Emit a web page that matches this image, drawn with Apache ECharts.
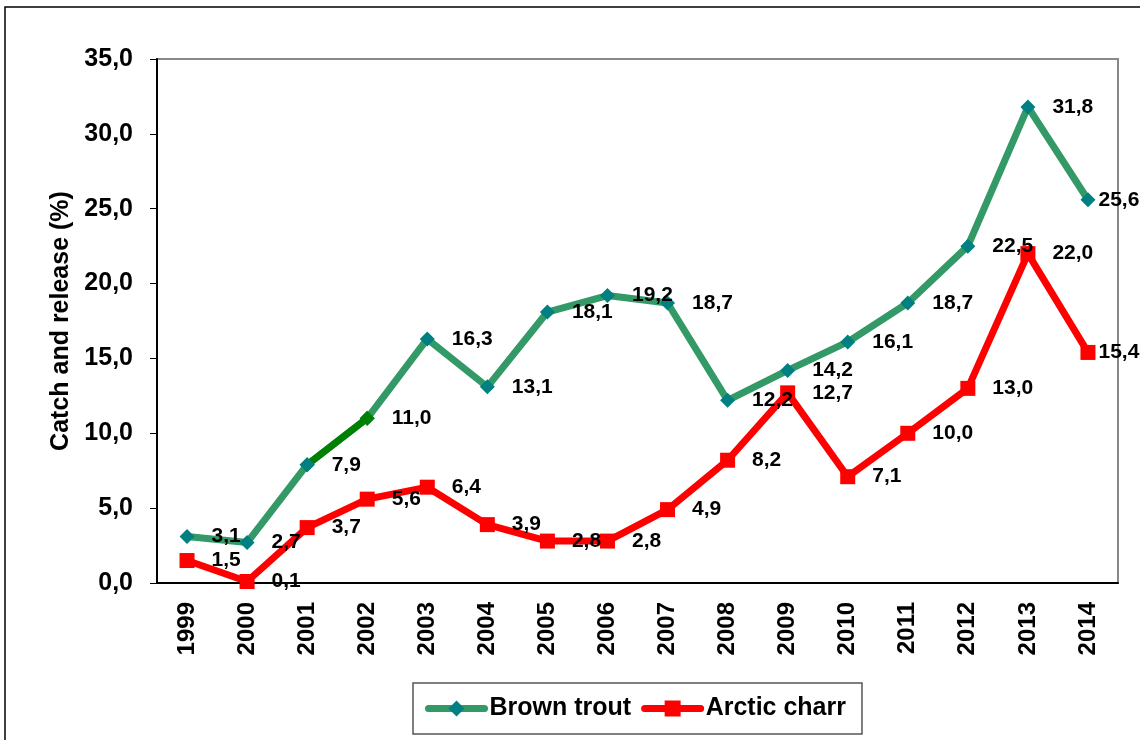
<!DOCTYPE html>
<html>
<head>
<meta charset="utf-8">
<script src="https://cdn.jsdelivr.net/npm/echarts@6/dist/echarts.min.js"></script>
<style>
  html, body { margin: 0; padding: 0; background: #fff; }
  #chart { width: 1140px; height: 740px; }
</style>
</head>
<body>
<div id="chart"></div>
<script>
// values
var years = ['1999', '2000', '2001', '2002', '2003', '2004', '2005', '2006', '2007', '2008', '2009', '2010', '2011', '2012', '2013', '2014']
var brownTrout = [3.1, 2.7, 7.9, 11.0, 16.3, 13.1, 18.1, 19.2, 18.7, 12.2, 14.2, 16.1, 18.7, 22.5, 31.8, 25.6]
var arcticCharr = [1.5, 0.1, 3.7, 5.6, 6.4, 3.9, 2.8, 2.8, 4.9, 8.2, 12.7, 7.1, 10.0, 13.0, 22.0, 15.4]
// 2001-2002 segment of brown trout drawn in darker green
var highlightYears = ['2001', '2002']

var font = 'Arial, "Liberation Sans", sans-serif'

function comma (v) {
  return Number(v).toFixed(1).replace('.', ',')
}

function withLabels (values) {
  // last point label sits closer to the marker (it runs over the plot border)
  return values.map(function (v, i) {
    if (i === values.length - 1) return { value: v, label: { distance: 3 } }
    return v
  })
}

var highlightData = years.map(function (y, i) {
  if (highlightYears.indexOf(y) < 0) return '-'
  if (y === highlightYears[0]) return { value: brownTrout[i], itemStyle: { color: '#008080' } }
  return { value: brownTrout[i], itemStyle: { color: '#008000' } }
})

var labelStyle = {
  show: true, position: 'right', distance: 17,
  formatter: function (p) { return comma(p.value) },
  fontFamily: font, fontWeight: 'bold', fontSize: 21, color: '#000'
}

var myChart = echarts.init(document.getElementById('chart'))
var option = {
  animation: false,
  textStyle: { fontFamily: font },
  graphic: [{
    type: 'rect',
    shape: { x: 5, y: 7, width: 1300, height: 900 },
    style: { fill: null, stroke: '#000', lineWidth: 1.5 },
    silent: true
  }],
  grid: {
    left: 157, right: 22, top: 59, bottom: 157,
    show: true, borderColor: '#888', borderWidth: 2,
    containLabel: false, outerBoundsMode: 'none'
  },
  legend: {
    data: ['Brown trout', 'Arctic charr'],
    left: 413, top: 683,
    padding: [13, 16, 13, 12],
    borderColor: '#555', borderWidth: 1.5,
    itemWidth: 56, itemHeight: 20, itemGap: 10,
    lineStyle: { width: 7, cap: 'round' },
    textStyle: { fontFamily: font, fontWeight: 'bold', fontSize: 25, color: '#000', padding: [0, 0, 0, 0] }
  },
  xAxis: {
    type: 'category',
    data: years,
    boundaryGap: true,
    axisLine: { lineStyle: { color: '#000', width: 2 } },
    axisTick: { length: 7, lineStyle: { color: '#000', width: 1 } },
    axisLabel: { rotate: 90, margin: 19, fontFamily: font, fontWeight: 'bold', fontSize: 24, color: '#000' },
    splitLine: { show: false }
  },
  yAxis: {
    type: 'value',
    min: 0, max: 35, interval: 5,
    name: 'Catch and release (%)',
    nameLocation: 'middle',
    nameGap: 82,
    nameTextStyle: { fontFamily: font, fontWeight: 'bold', fontSize: 25, color: '#000' },
    axisLine: { show: true, lineStyle: { color: '#000', width: 2 } },
    axisTick: { show: true, length: 7, lineStyle: { color: '#000', width: 1 } },
    axisLabel: { margin: 24, fontFamily: font, fontWeight: 'bold', fontSize: 25, color: '#000', formatter: comma },
    splitLine: { show: false }
  },
  series: [
    {
      name: 'Brown trout',
      type: 'line',
      data: withLabels(brownTrout),
      z: 3,
      symbol: 'diamond', symbolSize: 15,
      lineStyle: { color: '#339966', width: 7 },
      itemStyle: { color: '#008080' },
      label: labelStyle
    },
    {
      name: 'Brown trout 2001-2002',
      type: 'line',
      data: highlightData,
      z: 3,
      symbol: 'diamond', symbolSize: 15,
      lineStyle: { color: '#008000', width: 7 },
      itemStyle: { color: '#008000' },
      label: { show: false }
    },
    {
      name: 'Arctic charr',
      type: 'line',
      data: withLabels(arcticCharr),
      z: 3,
      symbol: 'rect', symbolSize: 15,
      lineStyle: { color: '#ff0000', width: 7 },
      itemStyle: { color: '#ff0000' },
      label: labelStyle
    }
  ]
}
myChart.setOption(option)
</script>
</body>
</html>
